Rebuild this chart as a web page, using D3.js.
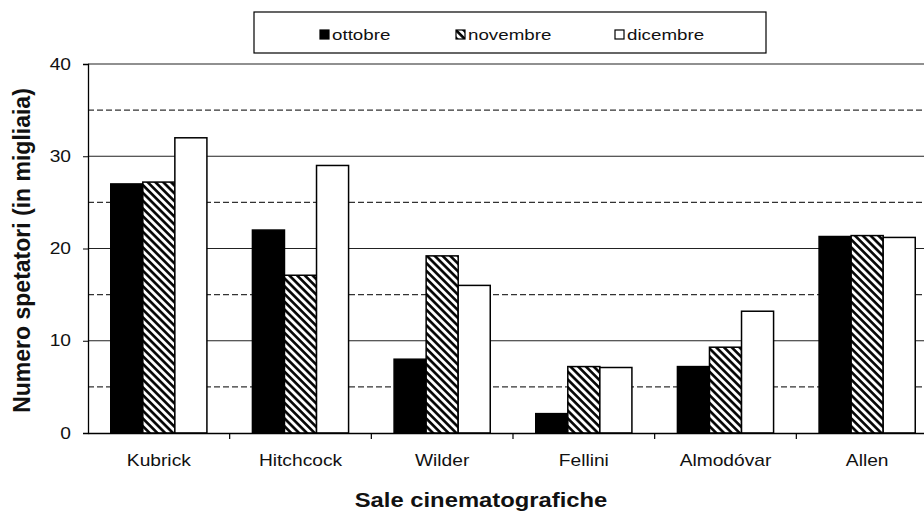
<!DOCTYPE html>
<html>
<head>
<meta charset="utf-8">
<script src="https://d3js.org/d3.v7.min.js"></script>
<style>
  body { margin: 0; background: #fff; }
  text { font-family: "Liberation Sans", Arial, sans-serif; fill: #111; }
</style>
</head>
<body>
<div id="chart"></div>
<script>
// data
const registi = ["Kubrick", "Hitchcock", "Wilder", "Fellini", "Almodóvar", "Allen"];
const mesi = ["ottobre", "novembre", "dicembre"];
const ottobre = [27, 22, 8, 2.1, 7.2, 21.3];
const novembre = [27.2, 17.1, 19.2, 7.2, 9.3, 21.4];
const dicembre = [32, 29, 16, 7.1, 13.2, 21.2];
const yMajor = [0, 10, 20, 30, 40];
const yMinor = [5, 15, 25, 35];

const serie = [ottobre, novembre, dicembre];

// layout (the scanned original is a bit wider than tall, so text gets stretched in x)
const W = 924, H = 513;
const mLeft = 88, mRight = 938, mTop = 64, mBottom = 433;
const sx = 1.2;

const svg = d3.select("#chart").append("svg")
  .attr("width", W).attr("height", H);

const defs = svg.append("defs");
const pat = defs.append("pattern")
  .attr("id", "hatch")
  .attr("patternUnits", "userSpaceOnUse")
  .attr("width", 5.5).attr("height", 5.5)
  .attr("patternTransform", "rotate(-45)");
pat.append("rect").attr("width", 5.5).attr("height", 5.5).attr("fill", "#fff");
pat.append("line").attr("x1", 1.4).attr("x2", 1.4).attr("y1", 0).attr("y2", 5.5)
  .attr("stroke", "#000").attr("stroke-width", 2.6);

const fills = ["#000", "url(#hatch)", "#fff"];

const x0 = d3.scaleBand().domain(registi).range([mLeft, mRight]).padding(0);
const x1 = d3.scaleBand().domain(mesi).range([0, x0.bandwidth()])
  .paddingInner(0).paddingOuter(0.71);
const y = d3.scaleLinear().domain([0, 40]).range([mBottom, mTop]);

// gridlines
svg.append("g").selectAll("line").data(yMinor).enter().append("line")
  .attr("x1", mLeft).attr("x2", mRight)
  .attr("y1", d => y(d)).attr("y2", d => y(d))
  .attr("stroke", "#333").attr("stroke-width", 1.1)
  .attr("stroke-dasharray", "6,3");
svg.append("g").selectAll("line").data(yMajor.slice(1)).enter().append("line")
  .attr("x1", mLeft).attr("x2", mRight)
  .attr("y1", d => y(d)).attr("y2", d => y(d))
  .attr("stroke", "#222").attr("stroke-width", 1.2);

// bars
const gruppi = svg.append("g").selectAll("g").data(registi).enter().append("g")
  .attr("transform", d => `translate(${x0(d)},0)`);
gruppi.selectAll("rect")
  .data((d, i) => mesi.map((m, j) => ({ m: m, v: serie[j][i], j: j })))
  .enter().append("rect")
  .attr("x", d => x1(d.m))
  .attr("width", x1.bandwidth())
  .attr("y", d => y(d.v))
  .attr("height", d => y(0) - y(d.v))
  .attr("fill", d => fills[d.j])
  .attr("stroke", "#000").attr("stroke-width", 1.5);

// axes
const yAxis = svg.append("g").attr("transform", `translate(${mLeft},0)`)
  .call(d3.axisLeft(y).tickValues(yMajor).tickSize(5));
yAxis.select(".domain").attr("stroke", "#000").attr("stroke-width", 1.3);
yAxis.selectAll(".tick line").attr("stroke", "#000");
yAxis.selectAll("text")
  .attr("x", -17 / sx)
  .attr("transform", `scale(${sx},1)`)
  .style("font-size", "16px").attr("fill", "#111");

const xAxis = svg.append("g").attr("transform", `translate(0,${mBottom})`)
  .call(d3.axisBottom(x0).tickSize(0).tickPadding(22));
xAxis.select(".domain").attr("stroke", "#000").attr("stroke-width", 1.3);
xAxis.selectAll("text")
  .attr("transform", `scale(${sx},1)`)
  .style("font-size", "16px").attr("fill", "#111");
// tick marks between categories
svg.append("g").selectAll("line").data(registi.slice(1)).enter().append("line")
  .attr("x1", d => x0(d)).attr("x2", d => x0(d))
  .attr("y1", mBottom).attr("y2", mBottom + 6)
  .attr("stroke", "#000").attr("stroke-width", 1.2);

// axis titles
svg.append("text")
  .attr("transform", `translate(30,${(mTop + mBottom) / 2 + 2}) rotate(-90)`)
  .attr("text-anchor", "middle")
  .style("font-size", "23px").style("font-weight", "bold")
  .text("Numero spetatori (in migliaia)");
svg.append("text")
  .attr("transform", `translate(481,507) scale(1.19,1)`)
  .attr("text-anchor", "middle")
  .style("font-size", "20px").style("font-weight", "bold")
  .text("Sale cinematografiche");

// legend
const leg = svg.append("g");
leg.append("rect").attr("x", 254).attr("y", 12).attr("width", 512).attr("height", 41)
  .attr("fill", "#fff").attr("stroke", "#000").attr("stroke-width", 1.2);
const legX = [320, 456, 615];
const voci = leg.selectAll("g.voce").data(mesi).enter().append("g")
  .attr("class", "voce")
  .attr("transform", (d, i) => `translate(${legX[i]},40)`);
voci.append("rect").attr("x", 0).attr("y", -10).attr("width", 9).attr("height", 9)
  .attr("fill", (d, i) => fills[i]).attr("stroke", "#000").attr("stroke-width", 1.2);
voci.append("text")
  .attr("transform", `translate(12,0) scale(1.25,1)`)
  .style("font-size", "15px").text(d => d);
</script>
</body>
</html>
